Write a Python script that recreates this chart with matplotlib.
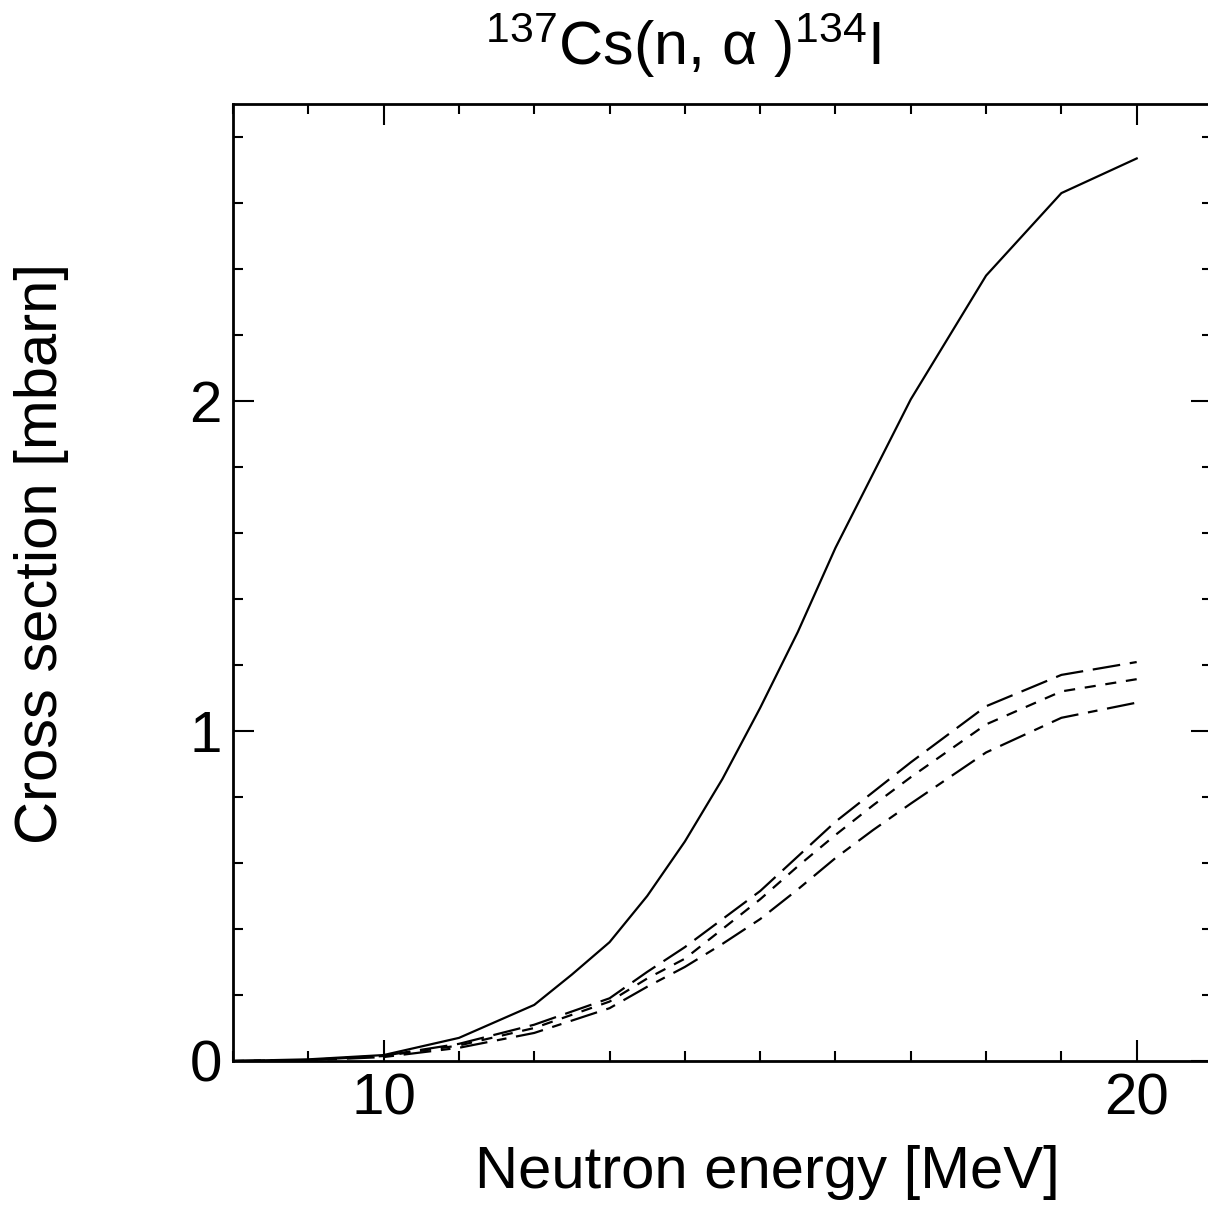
import matplotlib
matplotlib.use("Agg")
import matplotlib.pyplot as plt
from matplotlib.ticker import MultipleLocator

plt.rcParams['font.family'] = ['Liberation Sans', 'DejaVu Sans']
plt.rcParams['mathtext.fontset'] = 'custom'
plt.rcParams['mathtext.rm'] = 'Liberation Sans'
plt.rcParams['mathtext.it'] = 'Liberation Sans'
plt.rcParams['lines.scale_dashes'] = False

energy_solid = [8, 9, 10, 11, 12, 12.5, 13, 13.5, 14, 14.5, 15, 15.5, 16, 16.5, 17, 18, 19, 20]
sigma_solid = [0.0, 0.005, 0.018, 0.07, 0.17, 0.262, 0.36, 0.50, 0.665, 0.855, 1.07, 1.30,
               1.555, 1.78, 2.005, 2.38, 2.63, 2.735]

energy_dashed = [8, 9, 10, 11, 12, 13, 13.5, 14, 14.5, 15, 15.5, 16, 16.5, 17, 18, 19, 20]
sigma_long = [0.0, 0.003, 0.016, 0.052, 0.11, 0.19, 0.27, 0.345, 0.43, 0.515, 0.62, 0.725,
              0.815, 0.905, 1.075, 1.17, 1.209]
sigma_medium = [0.0, 0.003, 0.015, 0.047, 0.10, 0.18, 0.25, 0.31, 0.40, 0.49, 0.59, 0.685,
                0.775, 0.86, 1.02, 1.12, 1.157]
sigma_longshort = [0.0, 0.002, 0.012, 0.04, 0.085, 0.16, 0.225, 0.285, 0.355, 0.43, 0.52,
                   0.615, 0.70, 0.78, 0.935, 1.04, 1.086]

title = r'$^{137}$Cs(n, α )$^{134}$I'
xlabel = 'Neutron energy [MeV]'
ylabel = 'Cross section [mbarn]'

fig = plt.figure(figsize=(12.08, 12.10), dpi=100)
ax = fig.add_axes([233/1208, 149/1210, (1212-233)/1208, (1061-104)/1210])

lw = 1.6
ax.plot(energy_solid, sigma_solid, color='black', lw=lw)
ax.plot(energy_dashed, sigma_long, color='black', lw=lw, dashes=(20, 7))
ax.plot(energy_dashed, sigma_medium, color='black', lw=lw, dashes=(8, 7))
ax.plot(energy_dashed, sigma_longshort, color='black', lw=lw, dashes=(20, 7, 7, 7))

ax.set_xlim(8, 21)
ax.set_ylim(0, 2.9)
ax.xaxis.set_major_locator(MultipleLocator(10))
ax.xaxis.set_minor_locator(MultipleLocator(1))
ax.yaxis.set_major_locator(MultipleLocator(1))
ax.yaxis.set_minor_locator(MultipleLocator(0.2))
ax.tick_params(which='both', direction='in', top=True, right=True, width=1.5, labelsize=42)
ax.tick_params(axis='x', which='major', pad=8)
ax.tick_params(axis='y', which='major', pad=8)
ax.tick_params(which='major', length=15)
ax.tick_params(which='minor', length=7)
for s in ax.spines.values():
    s.set_linewidth(2)

fig.text(683/1208, 1 - 45/1210, title, ha='center', va='center', fontsize=44)
fig.text(767/1208, 1 - 1172/1210, xlabel, ha='center', va='center', fontsize=43)
fig.text(42/1208, 1 - 554/1210, ylabel, ha='center', va='center', rotation=90, fontsize=43)

fig.savefig('out.png', dpi=100)
